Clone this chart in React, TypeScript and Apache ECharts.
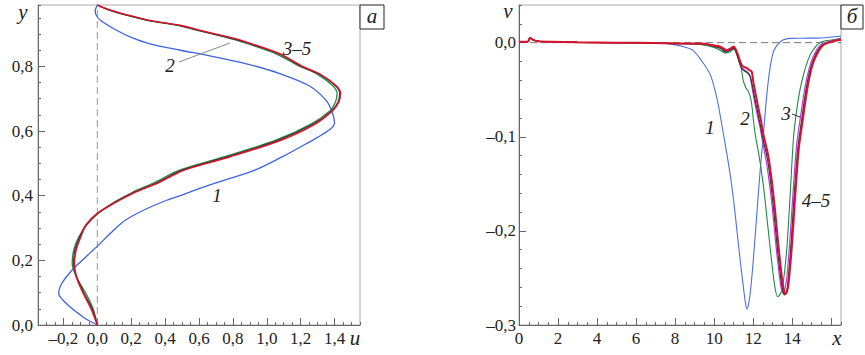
import React, { useEffect, useRef } from "react";
import * as echarts from "echarts";

// ---------- Left panel (а): u(y) profiles ----------
const leftBlueY = [0, 0.023, 0.064, 0.098, 0.13, 0.17, 0.187, 0.215, 0.244, 0.293, 0.324, 0.355, 0.386, 0.4, 0.422, 0.45, 0.479, 0.52, 0.56, 0.6, 0.625, 0.66, 0.695, 0.74, 0.778, 0.808, 0.834, 0.85, 0.87, 0.89, 0.911, 0.942, 0.96, 0.973, 0.99];
const leftBlueU = [0, -0.08, -0.178, -0.228, -0.208, -0.149, -0.116, -0.059, 0, 0.096, 0.165, 0.272, 0.41, 0.49, 0.6, 0.76, 0.93, 1.09, 1.23, 1.36, 1.4, 1.385, 1.35, 1.25, 1.076, 0.88, 0.65, 0.49, 0.31, 0.2, 0.116, 0.02, -0.008, -0.012, 0];

const leftY = [0, 0.05, 0.1, 0.15, 0.19, 0.23, 0.27, 0.31, 0.345, 0.38, 0.41, 0.44, 0.479, 0.52, 0.571, 0.62, 0.664, 0.69, 0.716, 0.74, 0.777, 0.8, 0.839, 0.88, 0.89, 0.911, 0.927, 0.942, 0.96, 0.975, 0.99];
const leftGreenU = [0, -0.025, -0.07, -0.125, -0.148, -0.14, -0.112, -0.062, 0.005, 0.1, 0.205, 0.335, 0.485, 0.745, 1.05, 1.255, 1.375, 1.405, 1.415, 1.39, 1.295, 1.195, 1.055, 0.83, 0.76, 0.595, 0.475, 0.3, 0.16, 0.065, 0];
const leftDarkU = [0, -0.03, -0.08, -0.122, -0.14, -0.133, -0.106, -0.066, 0, 0.105, 0.215, 0.35, 0.5, 0.765, 1.065, 1.268, 1.385, 1.42, 1.43, 1.405, 1.305, 1.205, 1.07, 0.84, 0.77, 0.6, 0.482, 0.305, 0.165, 0.068, 0];
const leftRedU = [0, -0.036, -0.085, -0.124, -0.135, -0.126, -0.1, -0.066, 0, 0.11, 0.22, 0.36, 0.51, 0.78, 1.08, 1.28, 1.39, 1.425, 1.435, 1.41, 1.312, 1.21, 1.076, 0.85, 0.78, 0.61, 0.49, 0.31, 0.17, 0.07, 0];

const leftXLabels = [-0.2, 0, 0.2, 0.4, 0.6, 0.8, 1.0, 1.2, 1.4];
const leftYLabels = [0, 0.2, 0.4, 0.6, 0.8];

// ---------- Right panel (б): v(x) profiles ----------
const headX = [0, 0.45, 0.56, 0.72, 1.0, 1.6, 3, 5, 7];
const headV = [0.001, 0.001, 0.005, 0.003, 0.0015, 0.001, 0.0003, 0, -0.0005];

const blueX = [7.6, 8.4, 8.9, 9.28, 9.8, 10.14, 10.4, 10.6, 10.82, 11.0, 11.2, 11.35, 11.5, 11.6, 11.68, 11.76, 11.85, 11.97, 12.1, 12.23, 12.36, 12.53, 12.7, 12.87, 13.04, 13.25, 13.55, 13.9, 14.5, 15.5, 16.5];
const blueV = [-0.001, -0.004, -0.008, -0.017, -0.034, -0.059, -0.088, -0.112, -0.14, -0.168, -0.206, -0.234, -0.26, -0.276, -0.283, -0.278, -0.266, -0.24, -0.206, -0.17, -0.135, -0.096, -0.055, -0.026, -0.0096, -0.002, 0.003, 0.0045, 0.0047, 0.005, 0.007];

const greenX = [8.5, 9.28, 10.0, 10.3, 10.6, 10.8, 11.0, 11.15, 11.33, 11.5, 11.65, 11.76, 11.9, 12.0, 12.1, 12.3, 12.53, 12.75, 12.96, 13.1, 13.25, 13.36, 13.47, 13.6, 13.73, 13.9, 14.07, 14.24, 14.4, 14.58, 14.75, 14.92, 15.1, 15.35, 15.7, 16.1, 16.5];
const greenV = [-0.001, -0.002, -0.005, -0.008, -0.011, -0.01, -0.007, -0.01, -0.02, -0.041, -0.049, -0.052, -0.062, -0.08, -0.097, -0.12, -0.153, -0.195, -0.235, -0.258, -0.27, -0.268, -0.263, -0.245, -0.217, -0.16, -0.1, -0.07, -0.05, -0.034, -0.022, -0.013, -0.007, -0.001, 0.002, 0.003, 0.005];

const violetX = [8.5, 9.28, 10.0, 10.3, 10.62, 10.82, 11.0, 11.15, 11.28, 11.4, 11.55, 11.7, 11.82, 11.92, 12.02, 12.2, 12.35, 12.47, 12.7, 12.95, 13.2, 13.37, 13.47, 13.55, 13.64, 13.72, 13.88, 14.05, 14.22, 14.4, 14.65, 14.85, 15.05, 15.3, 15.55, 16.0, 16.5];
const violetV = [-0.001, -0.001, -0.003, -0.005, -0.009, -0.007, -0.005, -0.011, -0.02, -0.026, -0.029, -0.031, -0.034, -0.045, -0.057, -0.076, -0.09, -0.104, -0.13, -0.17, -0.222, -0.252, -0.264, -0.266, -0.26, -0.25, -0.21, -0.157, -0.11, -0.082, -0.048, -0.029, -0.016, -0.006, -0.001, 0.002, 0.004];

const darkX = [8.5, 9.28, 10.0, 10.3, 10.62, 10.82, 11.0, 11.15, 11.3, 11.42, 11.56, 11.7, 11.85, 11.96, 12.07, 12.24, 12.38, 12.5, 12.75, 13.0, 13.25, 13.42, 13.52, 13.6, 13.68, 13.76, 13.93, 14.1, 14.28, 14.45, 14.7, 14.88, 15.07, 15.32, 15.57, 16.0, 16.5];
const darkV = [-0.001, -0.001, -0.004, -0.006, -0.01, -0.008, -0.006, -0.012, -0.022, -0.028, -0.03, -0.032, -0.036, -0.046, -0.058, -0.075, -0.089, -0.102, -0.126, -0.167, -0.22, -0.251, -0.264, -0.268, -0.266, -0.259, -0.217, -0.163, -0.114, -0.087, -0.051, -0.032, -0.019, -0.008, -0.002, 0.001, 0.003];

const redX = [8.5, 9.28, 10.0, 10.3, 10.65, 10.85, 11.0, 11.16, 11.3, 11.42, 11.55, 11.68, 11.8, 11.93, 12.0, 12.1, 12.27, 12.4, 12.53, 12.78, 13.05, 13.3, 13.47, 13.56, 13.64, 13.72, 13.8, 13.98, 14.15, 14.33, 14.5, 14.75, 14.92, 15.1, 15.35, 15.6, 16.0, 16.5];
const redV = [-0.001, -0.001, -0.003, -0.004, -0.008, -0.006, -0.004, -0.0096, -0.018, -0.024, -0.026, -0.027, -0.029, -0.031, -0.041, -0.052, -0.07, -0.083, -0.098, -0.121, -0.164, -0.217, -0.249, -0.262, -0.267, -0.265, -0.258, -0.217, -0.164, -0.114, -0.088, -0.052, -0.033, -0.02, -0.009, -0.0024, 0.001, 0.003];

const rightXLabels = [0, 2, 4, 6, 8, 10, 12, 14];
const rightXMajor = [0, 2, 4, 6, 8, 10, 12, 14, 16];
const rightYLabels = [-0.3, -0.2, -0.1, 0];

const SERIF = "Liberation Serif, Times New Roman, DejaVu Serif, serif";

const fmtDec = (v: number) => {
  const s = Math.abs(v) < 1e-9 ? "0.0" : v.toFixed(1);
  const r = s.replace(".", ",");
  return r.startsWith("-") ? "\u2013" + r.slice(1) : r;
};
const inList = (list: number[], v: number) => list.some((t) => Math.abs(t - v) < 1e-6);

const pairs = (xs: number[], ys: number[]) => xs.map((x, i) => [x, ys[i]]);

export default function App() {
  const ref = useRef<HTMLDivElement>(null);
  useEffect(() => {
    if (!ref.current) return;
    const chart = echarts.init(ref.current, undefined, { renderer: "svg" });
    const axisCol = "#666";
    const labelStyle = { fontFamily: SERIF, fontSize: 17, color: "#222" };
    const minorAxisBase = {
      axisLine: { show: true, onZero: false, lineStyle: { color: axisCol, width: 1 } },
      axisTick: { show: true, inside: true, length: 3, lineStyle: { color: axisCol } },
      splitLine: { show: false },
    };
    const majorOverlay = (customValues: number[]) => ({
      axisLine: { show: false, onZero: false },
      axisTick: { show: true, inside: true, length: 7, customValues, lineStyle: { color: axisCol } },
      axisLabel: { show: false },
      splitLine: { show: false },
    });

    const lineS = (xi: number, data: number[][], color: string, width: number, smooth: number) => ({
      type: "line",
      xAxisIndex: xi,
      yAxisIndex: xi,
      data,
      symbol: "none",
      smooth,
      lineStyle: { color, width },
      silent: true,
      z: 3,
    });

    const txt = (x: number, y: number, text: string, size = 19) => ({
      type: "text",
      x,
      y,
      z: 20,
      style: {
        text,
        fontFamily: SERIF,
        fontStyle: "italic",
        fontSize: size,
        fill: "#222",
        align: "center",
        verticalAlign: "middle",
      },
    });

    chart.setOption({
      animation: false,
      backgroundColor: "#fff",
      textStyle: { fontFamily: SERIF },
      grid: [
        { left: 38, top: 5, width: 322, height: 320, show: true, borderColor: "#aaa", borderWidth: 1, backgroundColor: "transparent" },
        { left: 519, top: 5, width: 322, height: 320, show: true, borderColor: "#aaa", borderWidth: 1, backgroundColor: "transparent" },
      ],
      xAxis: [
        {
          type: "value", gridIndex: 0, position: "bottom", min: -0.35, max: 1.55, interval: 0.05,
          ...minorAxisBase,
          axisLabel: { ...labelStyle, interval: 0, margin: 5, formatter: (v: number) => (inList(leftXLabels, v) ? fmtDec(v) : "") },
        },
        { type: "value", gridIndex: 0, position: "bottom", min: -0.35, max: 1.55, interval: 0.05, ...majorOverlay(leftXLabels) },
        {
          type: "value", gridIndex: 1, position: "bottom", min: 0, max: 16.5, interval: 0.5,
          ...minorAxisBase,
          axisLabel: { ...labelStyle, interval: 0, margin: 5, formatter: (v: number) => (inList(rightXLabels, v) ? String(Math.round(v)) : "") },
        },
        { type: "value", gridIndex: 1, position: "bottom", min: 0, max: 16.5, interval: 0.5, ...majorOverlay(rightXMajor) },
      ],
      yAxis: [
        {
          type: "value", gridIndex: 0, position: "left", min: 0, max: 0.99, interval: 0.05,
          ...minorAxisBase,
          axisLabel: { ...labelStyle, interval: 0, margin: 5, formatter: (v: number) => (inList(leftYLabels, v) ? fmtDec(v) : "") },
        },
        { type: "value", gridIndex: 0, position: "left", min: 0, max: 0.99, interval: 0.05, ...majorOverlay(leftYLabels) },
        {
          type: "value", gridIndex: 1, position: "left", min: -0.3, max: 0.04, interval: 0.02,
          ...minorAxisBase,
          axisLabel: { ...labelStyle, interval: 0, margin: 3, formatter: (v: number) => (inList(rightYLabels, v) ? fmtDec(v) : "") },
        },
        { type: "value", gridIndex: 1, position: "left", min: -0.3, max: 0.04, interval: 0.02, ...majorOverlay(rightYLabels) },
      ],
      series: [
        {
          type: "line", xAxisIndex: 0, yAxisIndex: 0, data: [[0, 0], [0, 0.99]], symbol: "none", silent: true, z: 2,
          lineStyle: { color: "#999", width: 1, type: [7, 4] },
        },
        lineS(0, pairs(leftBlueU, leftBlueY), "#3d62e3", 1.3, 0.3),
        lineS(0, pairs(leftGreenU, leftY), "#1f8a44", 1.3, 0.3),
        lineS(0, pairs(leftDarkU, leftY), "#333333", 1.2, 0.3),
        lineS(0, pairs(leftRedU, leftY), "#d3142c", 1.6, 0.3),

        {
          type: "line", xAxisIndex: 2, yAxisIndex: 2, data: [[0, 0], [16.5, 0]], symbol: "none", silent: true, z: 2,
          lineStyle: { color: "#777", width: 1, type: [7, 4] },
        },
        lineS(2, pairs(headX.concat(blueX), headV.concat(blueV)), "#4b6fe6", 1.1, 0.3),
        lineS(2, pairs(headX.concat(greenX), headV.concat(greenV)), "#1f8a44", 1.1, 0.3),
        lineS(2, pairs(headX.concat(violetX), headV.concat(violetV)), "#b23ee6", 1.2, 0.3),
        lineS(2, pairs(headX.concat(darkX), headV.concat(darkV)), "#333333", 1.2, 0.3),
        lineS(2, pairs(headX.concat(redX), headV.concat(redV)), "#d3142c", 2, 0.3),
      ],
      graphic: [
        { type: "rect", shape: { x: 360, y: 5, width: 24, height: 24 }, style: { fill: "#fff", stroke: "#222", lineWidth: 1 }, z: 19 },
        txt(372, 16, "а", 21),
        { type: "rect", shape: { x: 841, y: 5, width: 22, height: 24 }, style: { fill: "#fff", stroke: "#222", lineWidth: 1 }, z: 19 },
        txt(852, 16, "б", 21),
        txt(23, 12, "y", 21),
        txt(355, 338, "u", 21),
        txt(508, 11, "v", 21),
        txt(837, 338, "x", 21),
        txt(170, 65, "2"),
        { type: "line", shape: { x1: 179, y1: 62, x2: 230, y2: 43 }, style: { stroke: "#888", lineWidth: 1 }, z: 20 },
        txt(297, 48, "3–5"),
        txt(217, 195, "1"),
        txt(710, 127, "1"),
        txt(745, 118, "2"),
        txt(786, 113, "3"),
        { type: "line", shape: { x1: 792, y1: 114, x2: 800, y2: 117 }, style: { stroke: "#333", lineWidth: 1 }, z: 20 },
        txt(816, 200, "4–5"),
      ],
    });
    return () => chart.dispose();
  }, []);
  return (
    <div
      ref={ref}
      style={{ position: "absolute", left: 0, top: 0, width: 865, height: 355, background: "#fff" }}
    />
  );
}
